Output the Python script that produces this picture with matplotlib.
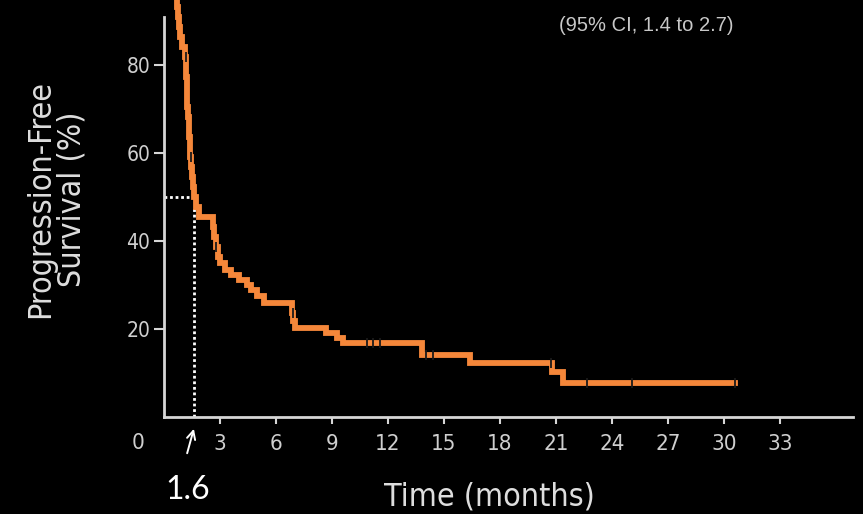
import matplotlib
matplotlib.use('Agg')
import matplotlib.pyplot as plt
import numpy as np

# Kaplan-Meier step data (months, % progression-free)
step_t = [0.0, 0.50, 0.60, 0.68, 0.75, 0.82, 0.88, 0.94, 1.14, 1.18, 1.20, 1.22, 1.24,
          1.26, 1.29, 1.32, 1.36, 1.38, 1.41, 1.46, 1.50, 1.55, 1.60, 1.70, 1.90,
          2.62, 2.70, 2.78, 2.88, 2.98, 3.28, 3.58, 4.02, 4.45, 4.68, 5.00, 5.36,
          6.86, 6.92, 7.02, 8.70, 9.27, 9.60, 13.80, 16.40, 20.80, 21.40, 30.6]
step_s = [100.0, 97.7, 95.5, 93.2, 90.9, 88.6, 86.4, 84.1, 81.8, 79.5, 77.2, 75.0, 72.7,
          70.4, 68.1, 65.9, 63.6, 61.3, 59.0, 56.8, 54.5, 52.2, 50.0, 47.7, 45.5,
          43.2, 40.9, 38.6, 36.4, 35.0, 33.4, 32.3, 31.1, 30.0, 28.9, 27.5, 25.9,
          23.6, 21.9, 20.2, 19.1, 18.0, 16.8, 14.1, 12.3, 10.2, 7.7, 7.7]
censor_t = [1.16, 1.43, 2.80, 6.90, 10.9, 11.2, 11.55, 14.05, 14.4, 20.75, 22.65, 25.1, 30.6]

median = 1.6
xticks = [3, 6, 9, 12, 15, 18, 21, 24, 27, 30, 33]
yticks = [20, 40, 60, 80]

orange = '#F5873A'
grey = '#d6d6d6'
narrow = dict(family='DejaVu Sans', stretch='condensed')

fig = plt.figure(figsize=(8.63, 5.14), dpi=100, facecolor='black')
ax = fig.add_axes([0.190, 0.1887, 0.798, 0.8113], facecolor='black')

# curve
ax.step(step_t, step_s, where='post', color=orange, lw=4.2, solid_joinstyle='miter', zorder=3)
idx = np.searchsorted(step_t, censor_t, side='right') - 1
cens_s = np.array(step_s)[idx]
ax.plot(censor_t, cens_s, ls='none', marker='|', ms=7, mew=1.3, color='#1a1a1a', zorder=4)

# median guide
ax.plot([0, median], [50, 50], color='white', lw=2, ls=(0, (1, 1)), zorder=2)
ax.plot([median, median], [0, 48], color='white', lw=2, ls=(0, (1, 1)), zorder=2)

ax.set_xlim(0, 36.9)
ax.set_ylim(0, 94.8)

for s in ['top', 'right']:
    ax.spines[s].set_visible(False)
for s in ['left', 'bottom']:
    ax.spines[s].set_color(grey)
    ax.spines[s].set_linewidth(2)
ax.spines['left'].set_bounds(0, 91)

ax.set_xticks(xticks)
ax.set_yticks(yticks)
ax.set_xticklabels([str(v) for v in xticks], fontsize=16, color='#cfcfcf', **narrow)
ax.set_yticklabels([str(v) for v in yticks], fontsize=15, color='#cfcfcf', **narrow)
ax.tick_params(axis='x', length=5, width=1.5, color=grey, pad=7)
ax.tick_params(axis='y', length=7, width=1.5, color=grey, pad=3)

# corner zero
ax.text(-1.4, -6.0, '0', fontsize=16, color='#cfcfcf', ha='center', va='center',
        clip_on=False, **narrow)

fig.text(0.065, 0.613, 'Progression-Free\nSurvival (%)', rotation=90, ha='center', va='center',
         multialignment='center', fontsize=23, color='#dedede', linespacing=1.0, **narrow)
fig.text(0.567, 0.033, 'Time (months)', ha='center', va='center',
         fontsize=23, color='#dedede', **narrow)
fig.text(0.7486, 0.951, '(95% CI, 1.4 to 2.7)', ha='center', va='center',
         family=['Liberation Sans', 'DejaVu Sans'], fontsize=14.5, color='#c8c8c8')

# annotation for the median
fig.text(0.217, 0.046, '1.6', ha='center', va='center', family=['Lato', 'DejaVu Sans'],
         fontsize=23, color='white')
ax.annotate('', xy=(0.2255, 0.1710), xytext=(0.2160, 0.1130), xycoords='figure fraction',
            textcoords='figure fraction',
            arrowprops=dict(arrowstyle='->', color='white', lw=1.4, mutation_scale=15))

fig.savefig('out.png', dpi=100, facecolor='black')
